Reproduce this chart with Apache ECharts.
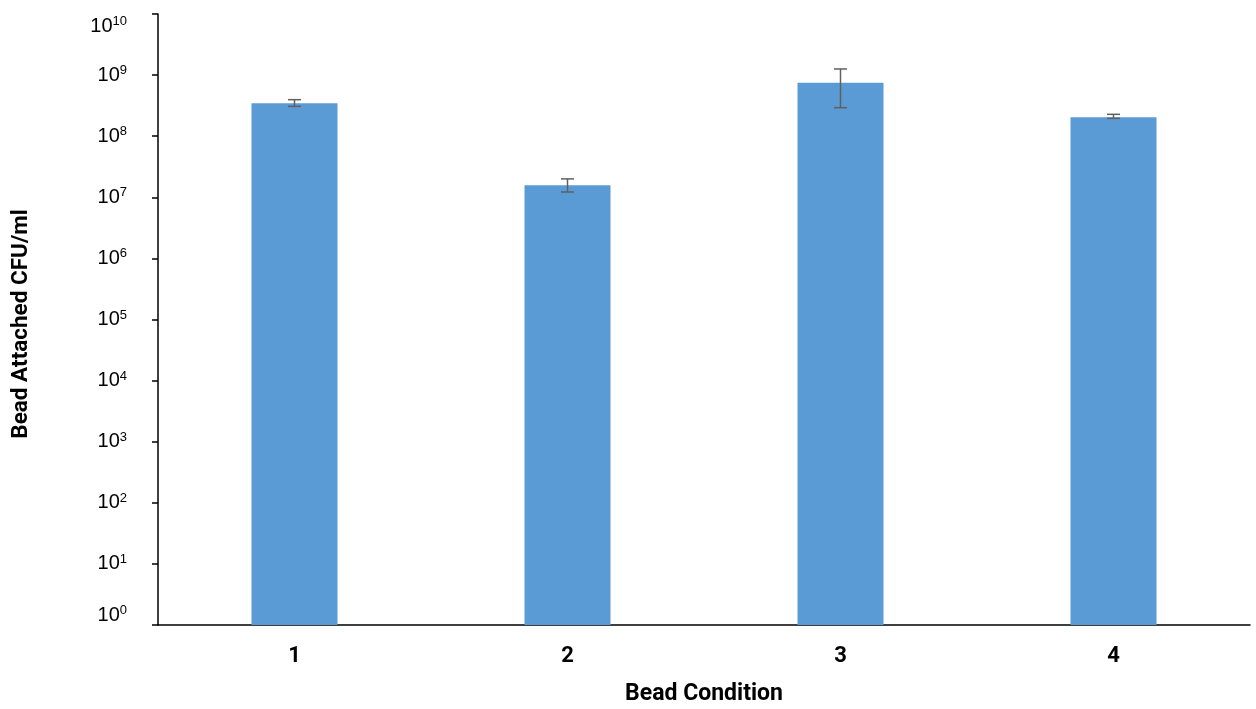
<!DOCTYPE html>
<html>
<head>
<meta charset="utf-8">
<script src="https://cdn.jsdelivr.net/npm/echarts@6/dist/echarts.min.js"></script>
<style>
html,body{margin:0;padding:0;background:#fff;}
#chart{width:1256px;height:709px;}
</style>
</head>
<body>
<div id="chart"></div>
<script>
// Data
var categories = ['1', '2', '3', '4'];
var cfuValues = [3.45e8, 1.57e7, 7.5e8, 2.04e8];
var errLow = [3.08e8, 1.22e7, 2.93e8, 1.96e8];
var errHigh = [3.96e8, 2.0e7, 1.26e9, 2.28e8];
var yMin = 1;
var yMax = 1e10;

var chart = echarts.init(document.getElementById('chart'));

var errData = categories.map(function (c, i) { return [i, errLow[i], errHigh[i]]; });

var boldFont = "Roboto, 'Liberation Sans', sans-serif";
var tickFont = "'Liberation Sans', Arial, sans-serif";

chart.setOption({
  animation: false,
  backgroundColor: '#ffffff',
  grid: { left: 158, right: 6, top: 14, bottom: 84, containLabel: false, outerBoundsMode: 'none' },
  xAxis: {
    type: 'category',
    data: categories,
    name: 'Bead Condition',
    nameLocation: 'middle',
    nameGap: 58,
    nameTextStyle: { fontFamily: boldFont, fontWeight: 'bold', fontSize: 23, color: '#000' },
    axisLine: { lineStyle: { color: '#000', width: 1.5 } },
    axisTick: { show: false },
    axisLabel: { margin: 20, fontFamily: boldFont, fontWeight: 'bold', fontSize: 22, color: '#000' },
    splitLine: { show: false }
  },
  yAxis: {
    type: 'log',
    logBase: 10,
    min: yMin,
    max: yMax,
    interval: 1,
    name: 'Bead Attached CFU/ml',
    nameLocation: 'middle',
    nameGap: 125,
    nameRotate: 90,
    nameTextStyle: { fontFamily: boldFont, fontWeight: 'bold', fontSize: 22.5, color: '#000', padding: [0, 9, 0, 0] },
    axisLine: { show: true, lineStyle: { color: '#000', width: 1.5 } },
    axisTick: { show: true, length: 6, lineStyle: { color: '#000', width: 1.5 } },
    splitLine: { show: false },
    minorTick: { show: false },
    axisLabel: {
      margin: 31,
      color: '#000',
      fontFamily: tickFont,
      fontSize: 20,
      formatter: function (v) {
        var e = Math.round(Math.log10(v));
        var s = '{b|10}{e|' + e + '}';
        if (e === 10) return '{sp| }\n' + s;
        if (e === 0) return s + '\n{sp2| }';
        return s;
      },
      rich: {
        b: { fontFamily: tickFont, fontSize: 20, lineHeight: 22, color: '#000' },
        e: { fontFamily: tickFont, fontSize: 13, verticalAlign: 'top', color: '#000' },
        sp: { fontSize: 10, lineHeight: 24 },
        sp2: { fontSize: 10, lineHeight: 20 }
      }
    }
  },
  series: [
    {
      type: 'bar',
      data: cfuValues,
      barWidth: 86,
      itemStyle: { color: '#5B9BD5' }
    },
    {
      type: 'custom',
      data: errData,
      z: 5,
      renderItem: function (params, api) {
        var x = api.value(0);
        var lo = api.coord([x, api.value(1)]);
        var hi = api.coord([x, api.value(2)]);
        var hw = 6.5;
        var st = { stroke: '#606060', lineWidth: 1.5 };
        return {
          type: 'group',
          children: [
            { type: 'line', shape: { x1: hi[0], y1: hi[1], x2: lo[0], y2: lo[1] }, style: st },
            { type: 'line', shape: { x1: hi[0] - hw, y1: hi[1], x2: hi[0] + hw, y2: hi[1] }, style: st },
            { type: 'line', shape: { x1: lo[0] - hw, y1: lo[1], x2: lo[0] + hw, y2: lo[1] }, style: st }
          ]
        };
      }
    }
  ]
});
</script>
</body>
</html>
